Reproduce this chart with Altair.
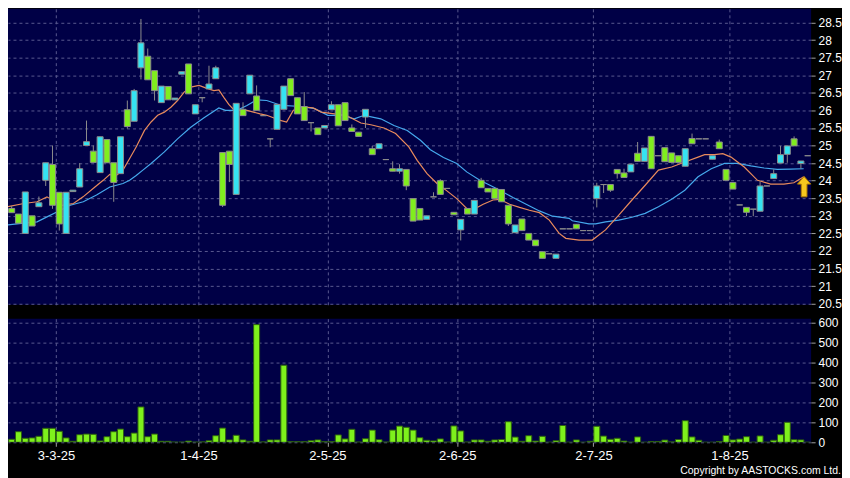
import altair as alt
import pandas as pd

# ---------------- data ----------------
opens = [23.21, 23.05, 22.50, 23.00, 23.26, 24.01, 24.46, 23.67, 22.50, 23.69,
         23.82, 25.00, 24.84, 24.23, 25.17, 24.51, 24.20, 26.02, 25.69, 27.21,
         27.54, 27.13, 26.22, 26.68, 26.30, 27.03, 27.32, 25.90, 26.36, 26.61,
         26.90, 24.80, 24.84, 23.61, 26.03, 26.47, 26.41, 25.85, 25.19, 25.46,
         26.03, 26.90, 26.36, 26.11, 25.65, 25.50, 25.50, 26.02, 26.16, 26.22,
         25.50, 25.38, 25.81, 24.91, 24.91, 24.60, 24.34, 24.27, 24.32, 23.49,
         23.21, 22.90, 23.54, 24.00, 23.78, 23.10, 22.60, 23.21, 23.05, 24.01,
         23.78, 23.78, 23.75, 23.30, 22.52, 22.91, 22.50, 22.31, 21.98, 21.92,
         21.79, 22.63, 22.63, 22.76, 22.58, 22.58, 23.49, 23.89, 23.89, 24.32,
         24.22, 24.25, 24.78, 24.55, 25.26, 24.71, 24.94, 24.79, 24.71, 24.41,
         25.20, 25.19, 25.19, 24.61, 25.10, 24.32, 23.95, 23.31, 23.24, 23.19,
         23.13, 23.85, 24.06, 24.50, 24.75, 25.19, 24.49, 24.71]
closes = [23.09, 22.79, 23.68, 22.71, 23.37, 24.51, 23.30, 22.77, 23.67, 23.73,
          24.34, 25.11, 24.52, 25.25, 24.51, 23.95, 25.25, 25.54, 26.56, 27.92,
          26.87, 26.56, 26.69, 26.30, 26.35, 27.10, 26.47, 26.16, 26.36, 26.75,
          27.21, 23.30, 24.46, 26.20, 25.85, 27.00, 26.00, 25.85, 25.19, 26.17,
          26.69, 26.42, 25.90, 25.71, 25.65, 25.31, 25.57, 26.16, 25.56, 25.71,
          25.40, 25.26, 26.03, 24.74, 25.05, 24.60, 24.27, 24.34, 23.85, 22.85,
          22.88, 23.00, 23.54, 23.61, 23.78, 23.03, 22.90, 23.05, 23.44, 23.80,
          23.68, 23.49, 23.40, 22.77, 22.74, 22.58, 22.31, 22.15, 21.79, 21.92,
          21.91, 22.63, 22.63, 22.63, 22.58, 22.58, 23.85, 23.89, 23.73, 24.20,
          24.09, 24.47, 24.55, 24.93, 24.34, 24.71, 24.54, 24.52, 24.52, 24.91,
          25.05, 25.19, 25.19, 24.71, 24.91, 24.01, 23.76, 23.31, 23.10, 23.19,
          23.85, 23.85, 24.20, 24.74, 24.99, 24.99, 24.56, 24.71]
highs = [23.28, 23.05, 23.68, 23.00, 23.55, 24.51, 25.00, 23.67, 23.67, 23.73,
         24.50, 25.71, 25.00, 25.25, 25.17, 24.51, 25.25, 26.28, 26.61, 28.60,
         27.76, 27.13, 26.69, 26.68, 26.35, 27.10, 27.32, 26.16, 26.36, 27.27,
         27.27, 24.80, 24.84, 26.20, 26.23, 27.00, 26.71, 25.85, 25.19, 26.17,
         26.69, 26.90, 26.36, 26.52, 25.65, 25.50, 25.57, 26.26, 26.16, 26.22,
         25.60, 25.38, 26.03, 24.99, 25.05, 24.60, 24.55, 24.47, 24.32, 23.49,
         23.21, 23.00, 23.67, 24.04, 23.78, 23.10, 22.90, 23.21, 23.44, 24.08,
         23.78, 23.78, 23.75, 23.30, 22.74, 22.91, 22.50, 22.31, 21.98, 21.92,
         21.91, 22.63, 22.63, 22.76, 22.58, 22.58, 23.94, 23.89, 23.89, 24.32,
         24.34, 24.47, 25.10, 24.93, 25.26, 24.71, 24.94, 24.79, 24.71, 24.91,
         25.34, 25.19, 25.19, 24.71, 25.17, 24.32, 23.95, 23.31, 23.24, 23.19,
         23.98, 23.85, 24.32, 24.99, 24.99, 25.26, 24.56, 24.71]
lows = [23.09, 22.79, 22.50, 22.71, 23.26, 23.85, 23.20, 22.58, 22.50, 23.69,
        23.82, 25.00, 24.52, 24.23, 24.51, 23.40, 24.20, 25.48, 25.69, 26.88,
        26.87, 26.28, 26.22, 26.30, 26.30, 27.03, 26.47, 25.90, 26.23, 26.61,
        26.90, 23.25, 23.96, 23.61, 25.85, 26.47, 26.00, 25.85, 24.95, 25.46,
        26.03, 26.42, 25.90, 25.71, 25.40, 25.31, 25.50, 26.02, 25.56, 25.71,
        25.40, 25.26, 25.50, 24.74, 24.91, 24.60, 24.27, 24.20, 23.73, 22.85,
        22.88, 22.90, 23.54, 23.61, 23.78, 23.03, 22.30, 23.05, 23.05, 23.80,
        23.68, 23.49, 23.40, 22.71, 22.52, 22.58, 22.31, 22.15, 21.79, 21.92,
        21.79, 22.63, 22.63, 22.63, 22.58, 22.58, 23.24, 23.65, 23.68, 24.06,
        24.09, 24.25, 24.55, 24.55, 24.34, 24.71, 24.54, 24.52, 24.52, 24.41,
        25.05, 25.19, 25.19, 24.61, 24.91, 24.01, 23.76, 23.31, 22.99, 22.99,
        23.13, 23.85, 24.06, 24.50, 24.51, 24.99, 24.34, 24.71]
volumes = [15, 53, 20, 22, 30, 70, 70, 55, 22, 5,
           38, 41, 40, 7, 28, 53, 66, 28, 46, 177,
           28, 41, 5, 5, 1, 1, 6, 1, 2, 8,
           33, 71, 12, 35, 12, 5, 589, 2, 12, 12,
           386, 3, 3, 3, 8, 12, 3, 3, 37, 17,
           65, 1, 18, 61, 13, 1, 61, 81, 75, 61,
           23, 10, 7, 17, 1, 82, 57, 1, 12, 12,
           5, 12, 14, 103, 26, 5, 33, 6, 30, 0,
           8, 84, 0, 12, 0, 5, 80, 31, 15, 20,
           6, 0, 27, 0, 4, 4, 11, 2, 14, 108,
           27, 10, 0, 0, 4, 34, 12, 16, 28, 0,
           32, 0, 10, 38, 100, 13, 12, 0]

ma10_idx = [-0.54, 1.79, 3.73, 5.19, 6.41, 7.37, 9.08, 10.49, 12.24, 13.45,
            14.43, 15.39, 16.36, 17.34, 18.30, 19.52, 20.49, 21.46, 22.44, 23.40,
            24.38, 25.35, 26.32, 27.54, 28.50, 29.72, 30.45, 31.18, 31.91, 32.64,
            33.60, 34.58, 35.55, 36.51, 37.49, 38.47, 39.20, 40.41, 41.38, 42.11,
            43.07, 44.30, 45.50, 47.44, 49.15, 50.12, 51.33, 52.79, 54.73, 56.43,
            58.37, 59.60, 61.05, 62.51, 63.97, 65.42, 66.88, 67.84, 69.30, 70.75,
            71.73, 73.19, 74.65, 76.10, 77.56, 79.02, 80.47, 81.45, 83.40, 85.34,
            87.28, 89.23, 91.17, 93.11, 95.06, 97.00, 98.94, 100.88, 101.85, 103.31,
            104.52, 105.73, 107.67, 109.62, 111.56, 113.50, 114.96, 116.41]
ma10_val = [23.26, 23.35, 23.40, 23.54, 23.40, 23.30, 23.35, 23.54, 23.82, 24.01,
            24.18, 24.15, 24.30, 24.63, 24.96, 25.43, 25.67, 25.86, 25.95, 26.09,
            26.28, 26.52, 26.66, 26.71, 26.64, 26.56, 26.58, 26.37, 26.17, 26.02,
            26.00, 26.00, 25.95, 25.90, 25.86, 25.79, 25.73, 25.67, 26.00, 26.08,
            26.09, 26.07, 25.95, 25.90, 25.86, 25.76, 25.64, 25.59, 25.50, 25.34,
            24.96, 24.58, 24.20, 23.92, 23.71, 23.49, 23.21, 23.18, 23.33, 23.45,
            23.47, 23.33, 23.24, 23.16, 23.09, 22.88, 22.50, 22.36, 22.31, 22.31,
            22.60, 23.02, 23.45, 23.87, 24.30, 24.39, 24.53, 24.67, 24.74, 24.74,
            24.77, 24.67, 24.39, 24.01, 23.90, 23.90, 23.94, 24.11]
ma20_idx = [-0.54, 1.79, 3.73, 5.19, 6.64, 8.60, 10.53, 12.47, 14.43, 16.36,
            17.34, 18.30, 19.28, 20.49, 22.44, 24.38, 26.32, 28.27, 30.45, 31.42,
            33.12, 34.58, 36.03, 37.49, 39.68, 42.59, 44.53, 46.48, 48.42, 50.36,
            51.81, 54.25, 56.19, 58.14, 60.08, 61.54, 63.47, 65.42, 66.88, 68.82,
            71.25, 73.68, 75.62, 77.56, 79.50, 81.93, 82.41, 84.84, 85.82, 87.28,
            89.23, 91.17, 93.11, 95.06, 97.00, 98.94, 100.88, 102.82, 104.77, 106.70,
            108.64, 110.59, 112.53, 114.47, 116.41]
ma20_val = [22.74, 22.79, 22.83, 22.97, 23.11, 23.30, 23.40, 23.59, 23.82, 23.92,
            24.01, 24.15, 24.30, 24.49, 24.82, 25.19, 25.52, 25.79, 26.07, 26.00,
            26.00, 26.14, 26.30, 26.28, 26.14, 26.11, 26.05, 25.86, 25.86, 25.76,
            25.86, 25.76, 25.57, 25.43, 25.15, 24.88, 24.66, 24.49, 24.25, 24.01,
            23.78, 23.52, 23.33, 23.14, 22.99, 22.93, 22.86, 22.77, 22.77, 22.83,
            22.88, 22.96, 23.07, 23.26, 23.47, 23.73, 24.11, 24.34, 24.49, 24.49,
            24.42, 24.36, 24.32, 24.33, 24.34]

tick_pos = [6.5, 27.45, 46.4, 65.5, 85.5, 105.5]
tick_labels = ["3-3-25", "1-4-25", "2-5-25", "2-6-25", "2-7-25", "1-8-25"]
price_ticks = [20.5, 21, 21.5, 22, 22.5, 23, 23.5, 24, 24.5, 25, 25.5, 26, 26.5, 27, 27.5, 28, 28.5]
vol_ticks = [0, 100, 200, 300, 400, 500, 600]
arrow_idx = [116.47]
arrow_price = [23.83]
copyright = ["Copyright by AASTOCKS.com Ltd."]

# ---------------- tables ----------------
n = len(opens)
dirs = ["up" if c > o else ("down" if c < o else "flat") for o, c in zip(opens, closes)]
df = pd.DataFrame({
    "i": list(range(n)), "open": opens, "close": closes, "high": highs, "low": lows,
    "vol": volumes, "dir": dirs,
})
df["x1"] = df["i"] - 0.44
df["x2"] = df["i"] + 0.44
df["zero"] = 0
ma10 = pd.DataFrame({"i": ma10_idx, "v": ma10_val})
ma20 = pd.DataFrame({"i": ma20_idx, "v": ma20_val})
arrow = pd.DataFrame({"i": arrow_idx, "v": arrow_price})
cr = pd.DataFrame({"t": copyright})

# ---------------- styling ----------------
FONT = "Liberation Sans"
CYAN = "#35e3f2"
GREEN = "#80ee1e"
EDGE = "#8c8c8c"
GRID = "#58588f"
W, H_PRICE, H_VOL = 806, 297, 124

xscale = alt.Scale(domain=[-0.54, 117.5], nice=False, zero=False)
pscale = alt.Scale(domain=[20.47, 28.888], nice=False, zero=False)
vscale = alt.Scale(domain=[0, 618.5], nice=False, zero=False)

label_expr = " : ".join(
    f"abs(datum.value - {p}) < 0.01 ? '{t}'" for p, t in zip(tick_pos, tick_labels)
) + " : ''"

x_axis_price = alt.Axis(values=tick_pos, labels=False, ticks=False, domain=False,
                        grid=True, title=None)
x_axis_vol = alt.Axis(values=tick_pos, labelExpr=label_expr, ticks=True, tickSize=4,
                      domain=False, grid=True, title=None, labelPadding=3,
                      labelFontSize=13)
y_axis_price = alt.Axis(values=price_ticks, orient="right", format="~g", title=None,
                        domain=False, grid=True, tickSize=4, labelPadding=3,
                        labelFontSize=12)
y_axis_vol = alt.Axis(values=vol_ticks, orient="right", format="d", title=None,
                      domain=False, grid=True, tickSize=4, labelPadding=3,
                      labelFontSize=12)

base = alt.Chart(df)

wicks = base.mark_rule(color=EDGE, strokeWidth=1, clip=True).encode(
    x=alt.X("i:Q", scale=xscale, axis=x_axis_price),
    y=alt.Y("low:Q", scale=pscale, axis=y_axis_price),
    y2="high:Q",
)
bodies = base.mark_rect(stroke=EDGE, strokeWidth=1, clip=True).encode(
    x=alt.X("x1:Q", scale=xscale, axis=x_axis_price),
    x2="x2:Q",
    y=alt.Y("open:Q", scale=pscale, axis=y_axis_price),
    y2="close:Q",
    color=alt.Color("dir:N", scale=alt.Scale(domain=["up", "down", "flat"],
                                             range=[CYAN, GREEN, EDGE]), legend=None),
)
line10 = alt.Chart(ma10).mark_line(color="#e88a5c", strokeWidth=1.2, clip=True).encode(
    x=alt.X("i:Q", scale=xscale, axis=x_axis_price),
    y=alt.Y("v:Q", scale=pscale, axis=y_axis_price),
)
line20 = alt.Chart(ma20).mark_line(color="#45a8ec", strokeWidth=1.2, clip=True).encode(
    x=alt.X("i:Q", scale=xscale, axis=x_axis_price),
    y=alt.Y("v:Q", scale=pscale, axis=y_axis_price),
)
arrow_mark = alt.Chart(arrow).mark_point(
    shape="M0,-1 L0.65,-0.25 L0.28,-0.25 L0.28,1 L-0.28,1 L-0.28,-0.25 L-0.65,-0.25 Z",
    size=420, filled=True, fill="#f8c81e", stroke="#b47c00", strokeWidth=1, opacity=1,
).encode(
    x=alt.X("i:Q", scale=xscale, axis=x_axis_price),
    y=alt.Y("v:Q", scale=pscale, axis=y_axis_price),
)

price = alt.layer(line20, line10, wicks, bodies, arrow_mark).properties(
    width=W, height=H_PRICE)

vbars = base.mark_rect(fill="#7ef01c", stroke="#2d5f10", strokeWidth=1, clip=True).encode(
    x=alt.X("x1:Q", scale=xscale, axis=x_axis_vol),
    x2="x2:Q",
    y=alt.Y("vol:Q", scale=vscale, axis=y_axis_vol),
    y2="zero:Q",
)
ctext = alt.Chart(cr).mark_text(align="right", baseline="middle", font=FONT,
                                fontSize=10.5, color="#ffffff").encode(
    text="t:N", x=alt.value(836), y=alt.value(152.7))

volume = alt.layer(vbars, ctext).properties(width=W, height=H_VOL)

chart = alt.vconcat(price, volume, spacing=14, bounds="flush").properties(
    background="#000000", padding=0,
).configure_view(
    fill="#000046", stroke=None,
).configure_axis(
    labelFont=FONT, labelColor="#ffffff", tickColor="#a0a0a0",
    gridColor=GRID, gridDash=[3, 3], gridWidth=1, gridOpacity=1,
)

chart.save("out.html", embed_options={"renderer": "svg", "actions": False})
